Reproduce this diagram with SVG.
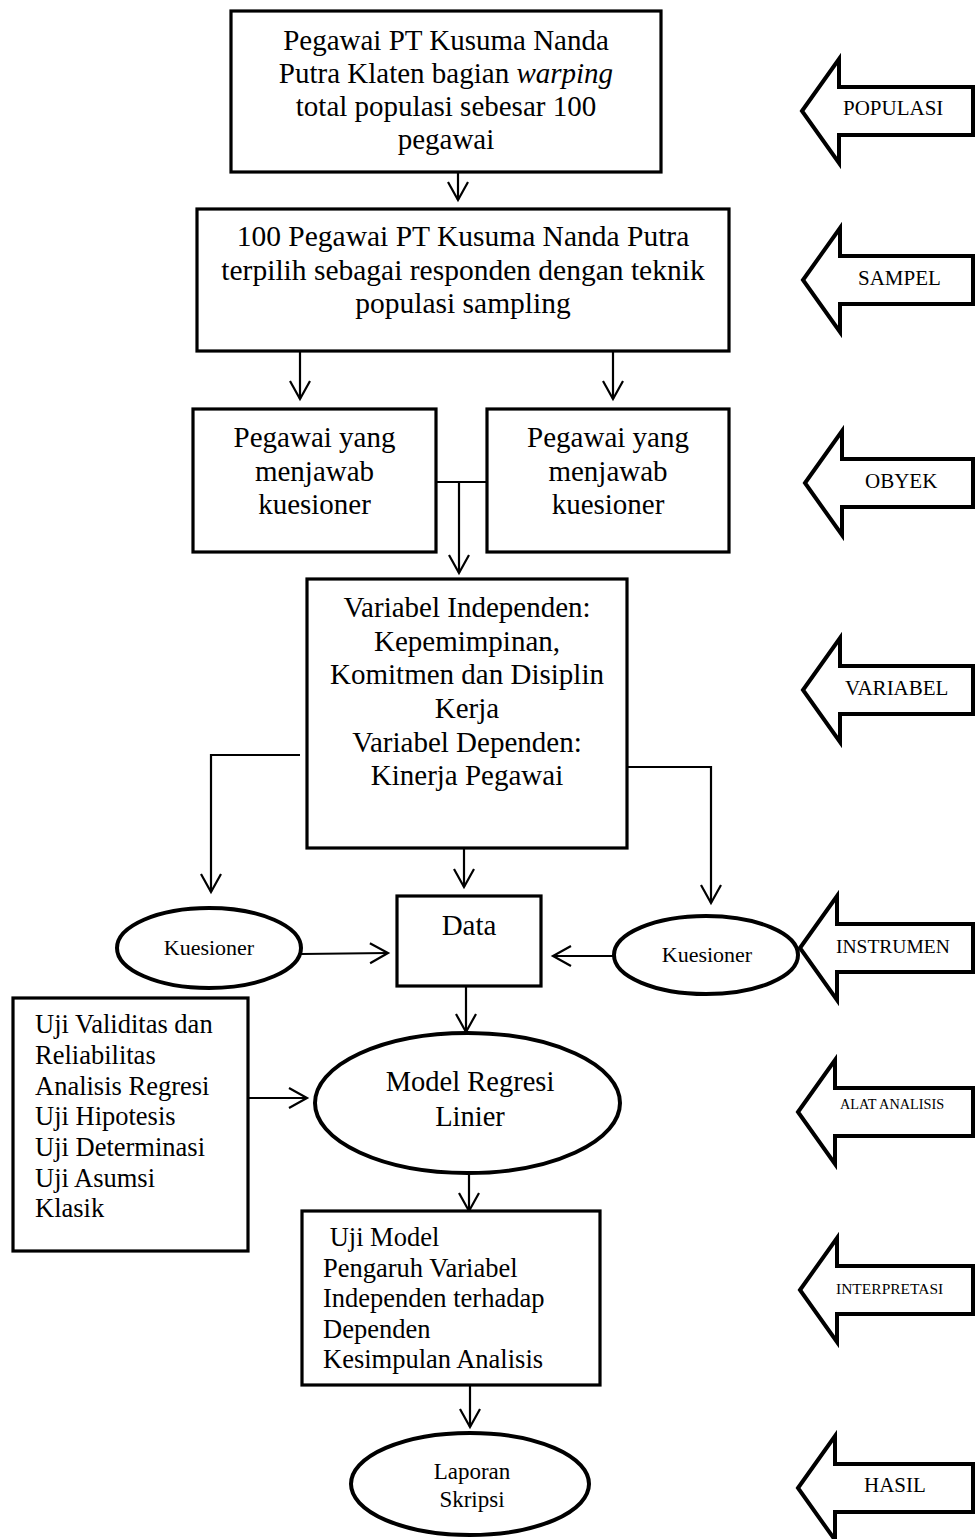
<svg xmlns="http://www.w3.org/2000/svg" width="977" height="1539" viewBox="0 0 977 1539">
<style>
.box{fill:#fff;stroke:#000;stroke-width:3.2}
.ell{fill:#fff;stroke:#000;stroke-width:4}
.side{fill:#fff;stroke:#000;stroke-width:4;stroke-linejoin:miter}
.t{font-family:"Liberation Serif","Times New Roman",serif;fill:#000}
.c{text-anchor:middle}
.con{fill:none;stroke:#000;stroke-width:2.2}
</style>
<defs>
<marker id="ah" viewBox="-21 -12 23 24" refX="0" refY="0" markerWidth="23" markerHeight="24" markerUnits="userSpaceOnUse" orient="auto" overflow="visible">
<path d="M-18,-10 L0,0 L-18,10" fill="none" stroke="#000" stroke-width="2.2"/>
</marker>
</defs>

<g id="connectors">
<line class="con" x1="458" y1="172" x2="458" y2="200" marker-end="url(#ah)"/>
<line class="con" x1="300" y1="351" x2="300" y2="399" marker-end="url(#ah)"/>
<line class="con" x1="613" y1="351" x2="613" y2="399" marker-end="url(#ah)"/>
<line class="con" x1="436" y1="482" x2="487" y2="482"/>
<line class="con" x1="459" y1="482" x2="459" y2="573" marker-end="url(#ah)"/>
<path class="con" d="M300,755 H211 V892" marker-end="url(#ah)"/>
<line class="con" x1="464" y1="848" x2="464" y2="887" marker-end="url(#ah)"/>
<path class="con" d="M623,767 H711 V903" marker-end="url(#ah)"/>
<line class="con" x1="301" y1="954" x2="388" y2="953" marker-end="url(#ah)"/>
<line class="con" x1="614" y1="956" x2="553" y2="956" marker-end="url(#ah)"/>
<line class="con" x1="466" y1="987" x2="466" y2="1032" marker-end="url(#ah)"/>
<line class="con" x1="243" y1="1098" x2="307" y2="1098" marker-end="url(#ah)"/>
<line class="con" x1="469" y1="1173" x2="469" y2="1211" marker-end="url(#ah)"/>
<line class="con" x1="470" y1="1385" x2="470" y2="1427" marker-end="url(#ah)"/>
</g>

<g id="populasi-box">
<rect class="box" x="231" y="11" width="430" height="161"/>
<text class="t c" font-size="29" x="446" y="50">Pegawai PT Kusuma Nanda</text>
<text class="t c" font-size="29" x="446" y="83">Putra Klaten bagian <tspan font-style="italic">warping</tspan></text>
<text class="t c" font-size="29" x="446" y="116">total populasi sebesar 100</text>
<text class="t c" font-size="29" x="446" y="149">pegawai</text>
</g>

<g id="sampel-box">
<rect class="box" x="197" y="209" width="532" height="142"/>
<text class="t c" font-size="29.5" x="463" y="246">100 Pegawai PT Kusuma Nanda Putra</text>
<text class="t c" font-size="29.5" x="463" y="280">terpilih sebagai responden dengan teknik</text>
<text class="t c" font-size="29.5" x="463" y="313">populasi sampling</text>
</g>

<g id="obyek-left">
<rect class="box" x="193" y="409" width="243" height="143"/>
<text class="t c" font-size="29" x="314.5" y="447">Pegawai yang</text>
<text class="t c" font-size="29" x="314.5" y="480.5">menjawab</text>
<text class="t c" font-size="29" x="314.5" y="514">kuesioner</text>
</g>

<g id="obyek-right">
<rect class="box" x="487" y="409" width="242" height="143"/>
<text class="t c" font-size="29" x="608" y="447">Pegawai yang</text>
<text class="t c" font-size="29" x="608" y="480.5">menjawab</text>
<text class="t c" font-size="29" x="608" y="514">kuesioner</text>
</g>

<g id="variabel-box">
<rect class="box" x="307" y="579" width="320" height="269"/>
<text class="t c" font-size="29" x="467" y="617">Variabel Independen:</text>
<text class="t c" font-size="29" x="467" y="651">Kepemimpinan,</text>
<text class="t c" font-size="29" x="467" y="684">Komitmen dan Disiplin</text>
<text class="t c" font-size="29" x="467" y="718">Kerja</text>
<text class="t c" font-size="29" x="467" y="752">Variabel Dependen:</text>
<text class="t c" font-size="29" x="467" y="785">Kinerja Pegawai</text>
</g>

<g id="kuesioner-left">
<ellipse class="ell" cx="209" cy="948" rx="92" ry="40"/>
<text class="t c" font-size="22" x="209" y="955">Kuesioner</text>
</g>

<g id="data-box">
<rect class="box" x="397" y="896" width="144" height="90"/>
<text class="t c" font-size="29" x="469" y="935">Data</text>
</g>

<g id="kuesioner-right">
<ellipse class="ell" cx="706" cy="955" rx="92" ry="39"/>
<text class="t c" font-size="22" x="707" y="962">Kuesioner</text>
</g>

<g id="uji-box">
<rect class="box" x="13" y="998" width="235" height="253"/>
<text class="t" font-size="26.5" x="35" y="1033">Uji Validitas dan</text>
<text class="t" font-size="26.5" x="35" y="1064">Reliabilitas</text>
<text class="t" font-size="26.5" x="35" y="1094.5">Analisis Regresi</text>
<text class="t" font-size="26.5" x="35" y="1125">Uji Hipotesis</text>
<text class="t" font-size="26.5" x="35" y="1156">Uji Determinasi</text>
<text class="t" font-size="26.5" x="35" y="1186.5">Uji Asumsi</text>
<text class="t" font-size="26.5" x="35" y="1217">Klasik</text>
</g>

<g id="model-ellipse">
<ellipse class="ell" cx="467.5" cy="1103" rx="152.5" ry="70"/>
<text class="t c" font-size="28.5" x="470" y="1091">Model Regresi</text>
<text class="t c" font-size="28.5" x="470" y="1126">Linier</text>
</g>

<g id="interpretasi-box">
<rect class="box" x="302" y="1211" width="298" height="174"/>
<text class="t" font-size="26.5" x="323" y="1246" xml:space="preserve"> Uji Model</text>
<text class="t" font-size="26.5" x="323" y="1277">Pengaruh Variabel</text>
<text class="t" font-size="26.5" x="323" y="1307">Independen terhadap</text>
<text class="t" font-size="26.5" x="323" y="1338">Dependen</text>
<text class="t" font-size="26.5" x="323" y="1368">Kesimpulan Analisis</text>
</g>

<g id="laporan-ellipse">
<ellipse class="ell" cx="470" cy="1484" rx="119" ry="51"/>
<text class="t c" font-size="23" x="472" y="1479">Laporan</text>
<text class="t c" font-size="23" x="472" y="1507">Skripsi</text>
</g>

<g id="label-populasi">
<path class="side" d="M802,111 l37,-52 v28 H973 v48 H839 v28 Z"/>
<text class="t" font-size="21" x="843" y="115">POPULASI</text>
</g>
<g id="label-sampel">
<path class="side" d="M803,280 l37,-52 v28 H973 v48 H840 v28 Z"/>
<text class="t" font-size="21" x="858" y="285">SAMPEL</text>
</g>
<g id="label-obyek">
<path class="side" d="M805,483 l37,-52 v28 H973 v48 H842 v28 Z"/>
<text class="t" font-size="21" x="865" y="488">OBYEK</text>
</g>
<g id="label-variabel">
<path class="side" d="M803,690 l37,-52 v28 H973 v48 H840 v28 Z"/>
<text class="t" font-size="21" x="845" y="695">VARIABEL</text>
</g>
<g id="label-instrumen">
<path class="side" d="M800,948 l37,-52 v28 H973 v48 H837 v28 Z"/>
<text class="t" font-size="19.5" x="836" y="953">INSTRUMEN</text>
</g>
<g id="label-alat">
<path class="side" d="M798,1112 l37,-52 v28 H973 v48 H835 v28 Z"/>
<text class="t" font-size="14.3" x="840" y="1109">ALAT ANALISIS</text>
</g>
<g id="label-interpretasi">
<path class="side" d="M800,1290 l37,-52 v28 H973 v48 H837 v28 Z"/>
<text class="t" font-size="15.5" x="836" y="1294">INTERPRETASI</text>
</g>
<g id="label-hasil">
<path class="side" d="M798,1488 l37,-52 v28 H973 v48 H835 v28 Z"/>
<text class="t" font-size="21" x="864" y="1492">HASIL</text>
</g>
</svg>
